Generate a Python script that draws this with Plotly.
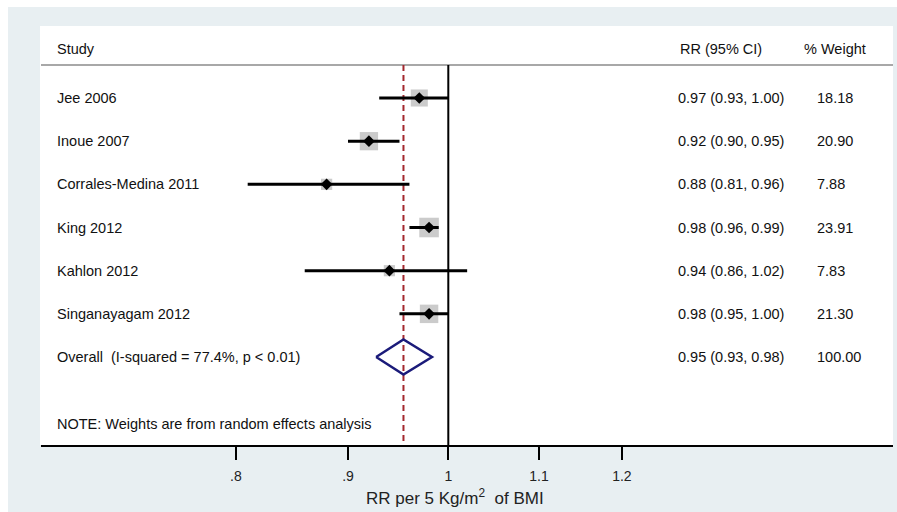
import math
import plotly.graph_objects as go

# ---- data ----
studies = ["Jee 2006", "Inoue 2007", "Corrales-Medina 2011", "King 2012", "Kahlon 2012", "Singanayagam 2012"]
rr = [0.97, 0.92, 0.88, 0.98, 0.94, 0.98]
ci_lo = [0.93, 0.90, 0.81, 0.96, 0.86, 0.95]
ci_hi = [1.00, 0.95, 0.96, 0.99, 1.02, 1.00]
weights = [18.18, 20.90, 7.88, 23.91, 7.83, 21.30]
overall_label = "Overall  (I-squared = 77.4%, p < 0.01)"
overall_rr = 0.954
overall_lo = 0.927
overall_hi = 0.983
overall_weight = 100.00
note = "NOTE: Weights are from random effects analysis"
tick_vals = [0.8, 0.9, 1.0, 1.1, 1.2]
tick_text = [".8", ".9", "1", "1.1", "1.2"]

# ---- layout geometry (pixels) ----
W, H = 897, 512
L, R, T, B = 41, 897 - 893, 26, 512 - 445
plot_w = W - L - R
plot_h = H - T - B
row_px = 43.17
first_row_px = 98
y_top = 1 - (first_row_px - T) / row_px
y_bot = 1 + (445 - first_row_px) / row_px
header_y = 1 + (49 - first_row_px) / row_px
header_line_y = 1 + (65 - first_row_px) / row_px
note_y = 1 + (424 - first_row_px) / row_px

n = len(studies)
rows = list(range(1, n + 1))
overall_row = n + 1

FONT = "Liberation Sans, Arial, sans-serif"
TXT = dict(family=FONT, size=14.5, color="#111111")

fig = go.Figure()

# CI lines
xs, ys = [], []
for r_, lo, hi in zip(rows, ci_lo, ci_hi):
    xs += [lo, hi, None]
    ys += [r_, r_, None]

# weight boxes
fig.add_trace(go.Scatter(
    x=rr, y=rows, mode="markers",
    marker=dict(symbol="square", size=[4.0 * math.sqrt(w) for w in weights],
                color="#b5b5b5", line=dict(width=0)),
    hoverinfo="skip", showlegend=False))

# null line at 1
fig.add_trace(go.Scatter(x=[1, 1], y=[header_line_y, y_bot], mode="lines",
                         line=dict(color="black", width=2), hoverinfo="skip", showlegend=False))
# overall dashed line
fig.add_trace(go.Scatter(x=[overall_rr, overall_rr], y=[header_line_y, y_bot], mode="lines",
                         line=dict(color="#a3282e", width=2, dash="6px,4px"),
                         hoverinfo="skip", showlegend=False))

fig.add_trace(go.Scatter(x=xs, y=ys, mode="lines", line=dict(color="black", width=3),
                         hoverinfo="skip", showlegend=False))

# point estimates
fig.add_trace(go.Scatter(
    x=rr, y=rows, mode="markers",
    marker=dict(symbol="diamond", size=9, color="black"),
    hoverinfo="skip", showlegend=False))

# overall diamond
hh = 17.5 / row_px
fig.add_trace(go.Scatter(
    x=[overall_lo, overall_rr, overall_hi, overall_rr, overall_lo],
    y=[overall_row, overall_row - hh, overall_row, overall_row + hh, overall_row],
    mode="lines", line=dict(color="#1b1b7a", width=2.5),
    hoverinfo="skip", showlegend=False))

# background shapes
shapes = [
    dict(type="rect", xref="paper", yref="paper",
         x0=(8 - L) / plot_w, x1=(W - L) / plot_w + 0.01,
         y0=-(B + 5) / plot_h, y1=(445 - 7) / plot_h,
         fillcolor="#e8eff2", line=dict(width=0), layer="below"),
    dict(type="rect", xref="paper", yref="paper",
         x0=(40 - L) / plot_w, x1=1.0, y0=0, y1=1.0,
         fillcolor="white", line=dict(width=0), layer="below"),
    dict(type="line", xref="paper", yref="y", x0=0, x1=1,
         y0=header_line_y, y1=header_line_y,
         line=dict(color="#a8a8a8", width=2), layer="below"),
]

def px_to_paper_x(px):
    return (px - L) / plot_w

ann = []
def add_text(px, y, text, yref="y", size=None, xanchor="left"):
    f = dict(TXT)
    if size:
        f["size"] = size
    ann.append(dict(x=px_to_paper_x(px), xref="paper", y=y, yref=yref, text=text,
                    showarrow=False, xanchor=xanchor, yanchor="middle", font=f))

add_text(55, header_y, "Study")
add_text(678, header_y, "RR (95% CI)")
add_text(802, header_y, "% Weight")
for r_, s, v, lo, hi, w in zip(rows, studies, rr, ci_lo, ci_hi, weights):
    add_text(55, r_, s)
    add_text(676, r_, f"{v:.2f} ({lo:.2f}, {hi:.2f})")
    add_text(815, r_, f"{w:.2f}")
add_text(55, overall_row, overall_label)
add_text(676, overall_row, f"{overall_rr:.2f} ({overall_lo:.2f}, {overall_hi:.2f})")
add_text(815, overall_row, f"{overall_weight:.2f}")
add_text(55, note_y, note)
# axis title
ann.append(dict(x=px_to_paper_x(455), xref="paper", y=(445 - 497) / plot_h, yref="paper",
                text="RR per 5 Kg/m<sup>2</sup>  of BMI", showarrow=False,
                xanchor="center", yanchor="middle",
                font=dict(family=FONT, size=17, color="#222222")))

x_lo = math.log10(math.exp((L - 448.3) / 952.0))
x_hi = math.log10(math.exp((893 - 448.3) / 952.0))

fig.update_layout(
    width=W, height=H,
    margin=dict(l=L, r=R, t=T, b=B, pad=0),
    paper_bgcolor="white", plot_bgcolor="white",
    shapes=shapes, annotations=ann, showlegend=False,
    xaxis=dict(type="log", range=[x_lo, x_hi], showgrid=False, zeroline=False,
               showline=True, linecolor="black", linewidth=2,
               ticks="outside", ticklen=13, tickwidth=2, tickcolor="black",
               tickvals=tick_vals, ticktext=tick_text, ticklabelstandoff=4,
               tickfont=dict(family=FONT, size=14, color="#222222")),
    yaxis=dict(range=[y_bot, y_top], showgrid=False, zeroline=False,
               showticklabels=False, showline=False, ticks=""),
)

fig.write_html("out.html")
